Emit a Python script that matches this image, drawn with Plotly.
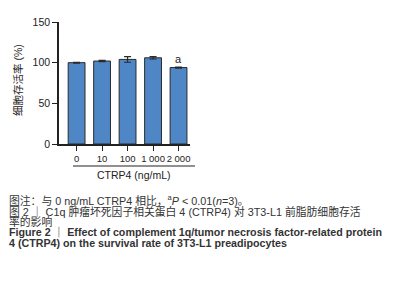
import plotly.graph_objects as go

categories = ["0", "10", "100", "1 000", "2 000"]
values = [100, 102, 104, 106, 94]
errors = [0.5, 0.8, 3.5, 1.5, 0.6]
sig_labels = ["", "", "", "", "a"]
y_ticks = [0, 50, 100, 150]

W, H = 398, 293
L, R, T, B = 59, 190, 22, 144

def px(x):
    return (x - L) / (R - L)

def py(y):
    return (B - y) / (B - T)

fig = go.Figure()
fig.add_trace(go.Bar(
    x=list(range(len(categories))), y=values,
    width=0.66,
    marker=dict(color="#4f87c6", line=dict(color="#2a2a2a", width=1)),
    error_y=dict(type="data", array=errors, symmetric=True, color="#2a2a2a", thickness=1.2, width=3.5),
))

font_main = "Liberation Sans Narrow, Liberation Sans, Noto Sans CJK SC, sans-serif"

fig.update_layout(
    width=W, height=H,
    margin=dict(l=L, r=W - R, t=T, b=H - B),
    paper_bgcolor="white", plot_bgcolor="white",
    showlegend=False,
    font=dict(family=font_main, size=10, color="#222"),
    xaxis=dict(
        range=[-0.69, 4.45],
        tickvals=list(range(len(categories))), ticktext=categories,
        showline=True, linecolor="#222", linewidth=1.5,
        ticks="outside", ticklen=5, tickwidth=1.2, tickcolor="#222",
        showgrid=False, zeroline=False, tickangle=0, automargin=False,
        tickfont=dict(size=9.5, color="#222"),
    ),
    yaxis=dict(
        range=[0, 150],
        tickvals=y_ticks, automargin=False,
        showline=True, linecolor="#222", linewidth=1.5,
        ticks="outside", ticklen=5, tickwidth=1.2, tickcolor="#222",
        showgrid=False, zeroline=False,
        tickfont=dict(size=10.5, color="#222"),
    ),
)

fig.add_annotation(xref="paper", yref="paper", x=px(18), y=py(80),
                   text="细胞存活率 (%)", showarrow=False, textangle=-90,
                   font=dict(size=10.5, color="#222"), xanchor="center", yanchor="middle")

for i, lab in enumerate(sig_labels):
    if lab:
        fig.add_annotation(x=i, y=values[i], text=lab, showarrow=False,
                           yanchor="bottom", yshift=1, font=dict(size=11, color="#222"))

# group line below tick labels
fig.add_shape(type="line", xref="paper", yref="paper",
              x0=px(73), x1=px(195), y0=py(166), y1=py(166),
              line=dict(color="#222", width=1.2))
fig.add_annotation(xref="paper", yref="paper", x=px(134), y=py(175),
                   text="CTRP4 (ng/mL)", showarrow=False,
                   font=dict(size=10.5, color="#222"), xanchor="center", yanchor="middle")

captions = [
    ("图注：与 0 ng/mL CTRP4 相比，<sup>a</sup><i>P</i> < 0.01(<i>n</i>=3)。", 200, 10.8),
    ("图 2 ｜ C1q 肿瘤坏死因子相关蛋白 4 (CTRP4) 对 3T3-L1 前脂肪细胞存活", 211, 10.8),
    ("率的影响", 221.5, 10.8),
    ("<b>Figure 2 ｜ Effect of complement 1q/tumor necrosis factor-related protein</b>", 232, 10.7),
    ("<b>4 (CTRP4) on the survival rate of 3T3-L1 preadipocytes</b>", 242.5, 10.7),
]
for text, y, size in captions:
    fig.add_annotation(xref="paper", yref="paper", x=px(7), y=py(y),
                       text=text, showarrow=False, xanchor="left", yanchor="middle",
                       font=dict(size=size, color="#333"))

fig.write_html("out.html", config={"displayModeBar": False},
               post_script="document.body.style.margin='0';")
